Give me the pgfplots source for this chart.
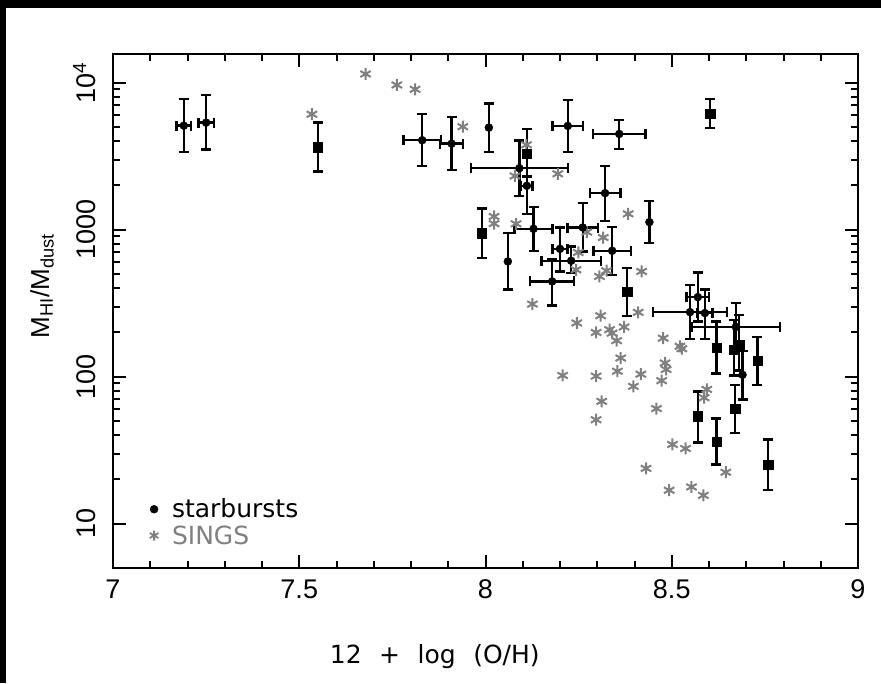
\documentclass[border=0pt]{standalone}
\usepackage{pgfplots}
\usepackage{pgfplotstable}
\pgfplotsset{compat=1.18}
\usepackage{fontspec}
\setmainfont{Liberation Sans}
\newfontfamily\pgfont{DejaVu Sans}
\definecolor{singsgray}{gray}{0.5}
\pgfplotsset{mylegimg/.style={legend image code/.code={\draw[##1] plot coordinates {(0pt,0pt)}; \path (-5pt,-5pt) (15pt,5pt);}}}

% circles with x and y errors: x y xe yp ym
\pgfplotstableread{
x y xe yp ym
7.19 5100 0.020 2640 1730
7.25 5350 0.021 2900 1840
7.83 4060 0.050 2040 1360
7.909 3850 0.031 2000 1310
8.221 5080 0.041 2520 1710
8.359 4480 0.070 1100 930
8.091 2620 0.130 1420 920
8.111 1990 0.015 1110 708
8.129 1015 0.051 415 296
8.261 1035 0.041 482 324
8.321 1773 0.041 947 629
8.200 741 0.020 294 221
8.230 615 0.080 154 108
8.179 445 0.059 189 140
8.340 719 0.050 323 225
8.549 275 0.100 146 94
8.570 348 0.030 165 110
8.589 271 0.020 120 90
8.672 218 0.119 99 68
}\circxy

% circles with y errors only
\pgfplotstableread{
x y yp ym
8.009 4950 2290 1580
8.060 608 340 215
8.440 1126 445 315
8.690 103 47 33
}\circy

% squares with y errors
\pgfplotstableread{
x y yp ym
7.550 3640 1710 1150
8.111 3280 1560 980
7.990 948 442 304
8.380 380 168 120
8.620 158 80 53
8.681 165 99 55
8.667 152 90 50
8.730 129 57 41
8.570 53.8 25.8 18
8.620 36.2 15.7 10.9
8.670 60.4 27.1 18.9
8.759 25.3 12.1 8.4
8.603 6130 1610 1210
}\sqy

% SINGS
\pgfplotstableread{
x y
7.534 6100
7.678 11460
7.762 9650
7.811 9020
7.939 5020
8.110 3780
8.079 2320
8.194 2400
8.023 1230
8.023 1100
8.082 1097
8.383 1282
8.272 963
8.316 885
8.249 700
8.243 534
8.306 481
8.325 526
8.419 520
8.126 312
8.245 232
8.309 260
8.297 200
8.333 209
8.340 198
8.372 218
8.352 176
8.363 134
8.354 109
8.207 102
8.297 101
8.312 68
8.297 51
8.410 274
8.477 183
8.522 161
8.527 155
8.417 104
8.397 86
8.482 124
8.485 112
8.473 94
8.459 60.7
8.594 82
8.587 72
8.502 34.6
8.537 32.5
8.431 23.8
8.645 22.4
8.493 16.9
8.553 17.8
8.585 15.6
}\sings

\begin{document}
\begin{tikzpicture}[x=1pt,y=1pt]
\path[use as bounding box] (0,0) rectangle (881,683);
\fill[black] (0,675) rectangle (881,683);
\fill[black] (0,0) rectangle (6,683);
\begin{axis}[
  at={(113pt,115pt)}, anchor=south west,
  scale only axis, width=745pt, height=513.7pt,
  xmin=7, xmax=9, ymode=log, ymin=5, ymax=15600,
  xtick={7,7.5,8,8.5,9}, xticklabels={7,7.5,8,8.5,9},
  minor x tick num=4,
  ytick={10,100,1000,10000}, yticklabels={10,100,1000,{10\textsuperscript{4}}},
  tick align=inside, tick pos=both,
  major tick length=13pt, minor tick length=7pt,
  every tick/.style={black, line width=2pt},
  axis line style={line width=2.2pt},
  ticklabel style={font=\fontsize{27}{32}\selectfont},
  yticklabel style={rotate=90, anchor=south},
  xticklabel shift=8pt, yticklabel shift=14pt,
  xlabel={\pgfont 12\hspace{0.7em}+\hspace{0.7em}log\hspace{0.7em}(O/H)},
  ylabel={M\textsubscript{HI}/M\textsubscript{dust}},
  every axis x label/.style={at={(axis description cs:0.432,-0.173)}, anchor=center, font=\fontsize{25}{30}\selectfont},
  every axis y label/.style={at={(axis description cs:-0.0953,0.549)}, anchor=center, rotate=90, font=\fontsize{26}{30}\selectfont},
  legend style={draw=none, fill=none, at={(axis description cs:0.047,0.089)}, anchor=west,
    font=\pgfont\fontsize{25}{30}\selectfont, row sep=2pt, inner sep=0pt, nodes={inner sep=2pt}},
  legend cell align=left,
  error bars/error bar style={line width=2.4pt, black},
  error bars/error mark options={rotate=90, line width=2.4pt, mark size=5pt, black},
]
\addlegendimage{only marks, mark=*, mark size=4pt, black, mylegimg}
\addlegendentry{starbursts}
\addlegendimage{only marks, mark=asterisk, mark size=5pt, singsgray, line width=1.8pt, mylegimg}
\addlegendentry{\textcolor{singsgray}{SINGS}}

\addplot[forget plot, only marks, mark=asterisk, mark size=6pt, singsgray, line width=2pt] table[x=x,y=y] {\sings};

\addplot[forget plot, only marks, mark=*, mark size=4pt, black,
  error bars/.cd, x dir=both, x explicit, y dir=both, y explicit]
  table[x=x, y=y, x error=xe, y error plus=yp, y error minus=ym] {\circxy};
\addplot[forget plot, only marks, mark=*, mark size=4pt, black,
  error bars/.cd, y dir=both, y explicit]
  table[x=x, y=y, y error plus=yp, y error minus=ym] {\circy};
\addplot[forget plot, only marks, mark=square*, mark size=4.7pt, black,
  error bars/.cd, y dir=both, y explicit]
  table[x=x, y=y, y error plus=yp, y error minus=ym] {\sqy};
\end{axis}
\end{tikzpicture}
\end{document}
